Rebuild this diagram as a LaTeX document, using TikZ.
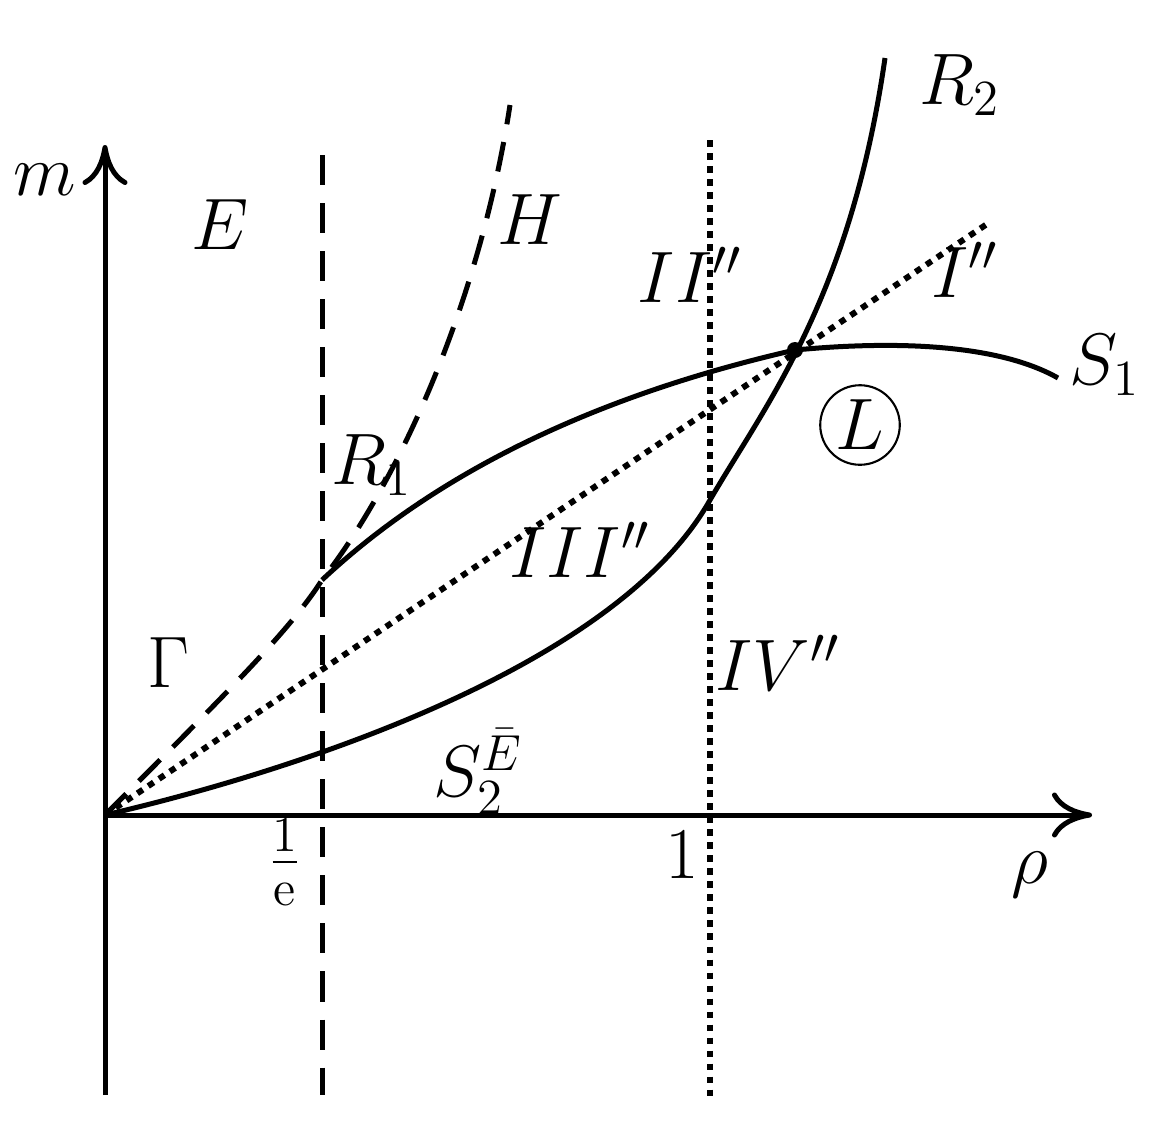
\documentclass[tikz,border=0pt]{standalone}
\usetikzlibrary{arrows.meta}
\begin{document}
\begin{tikzpicture}[x=0.01cm,y=-0.01cm,
  ln/.style={line width=0.05cm},
  dotl/.style={line width=0.06cm,dash pattern=on 0.065cm off 0.065cm},
  dashl/.style={ln,dash pattern=on 0.3cm off 0.18cm},
  lbl/.style={font=\fontsize{22}{24}\selectfont},
  axarrow/.style={ln,-{To[length=0.4cm,width=0.45cm,line width=0.05cm]}}]
\useasboundingbox (0,0) rectangle (1164,1142);
\coordinate (O) at (105,815);
\coordinate (ytop) at (105,145);
\coordinate (ybot) at (105,1095);
\coordinate (xend) at (1092,815);
\coordinate (P) at (322,580);
\coordinate (L) at (795,350);
\draw[axarrow] (ybot) -- (ytop);
\draw[axarrow] (O) -- (xend);
\draw[dashl] (322,155) -- (322,1095);
\draw[dotl] (710,140) -- (710,1100);
\draw[dashl] (O) .. controls (230,690) and (290,630) .. (P)
  .. controls (400,480) and (480,300) .. (510,105);
\draw[dotl] (O) -- (990,222);
\draw[ln] (O) .. controls (320,765) and (620,660) .. (710,500)
  .. controls (765,405) and (850,300) .. (885,58);
\draw[ln] (P) .. controls (450,460) and (620,390) .. (L)
  .. controls (900,340) and (1000,345) .. (1058,378);
\fill (L) circle (0.08cm);
\node[lbl] (m) at (45,180) {$m$};
\node[lbl] (E) at (220,225) {$E$};
\node[lbl] (H) at (530,220) {$H$};
\node[lbl] (II) at (690,275) {$II''$};
\node[lbl] (I) at (965,270) {$I''$};
\node[lbl] (R2) at (960,85) {$R_2$};
\node[lbl] (S1) at (1105,365) {$S_1$};
\node[lbl,draw,circle,inner sep=1pt,line width=0.6pt] (Lc) at (860,425) {$L$};
\node[lbl] (R1) at (372,465) {$R_1$};
\node[lbl] (III) at (580,550) {$III''$};
\node[lbl] (G) at (168,663) {$\Gamma$};
\node[lbl] (IV) at (778,663) {$IV''$};
\node[lbl] (S2) at (478,772) {$S_2^{\bar E}$};
\node[lbl] (e) at (285,862) {$\frac{1}{\mathrm{e}}$};
\node[lbl] (one) at (682,855) {$1$};
\node[lbl] (rho) at (1030,875) {$\rho$};
\end{tikzpicture}
\end{document}
